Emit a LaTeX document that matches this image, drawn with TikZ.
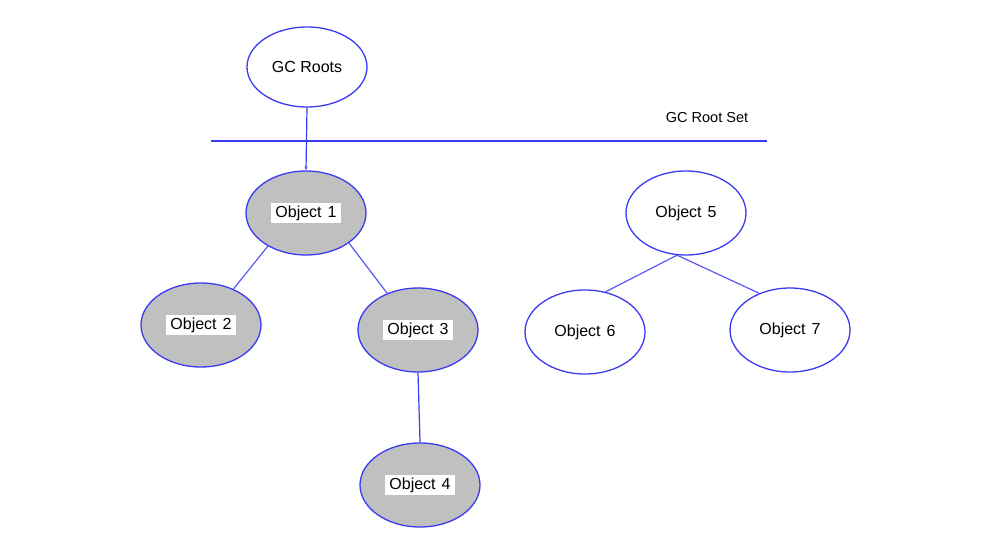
\documentclass[tikz,border=0pt]{standalone}
\usepackage{fontspec}
\setmainfont{Liberation Sans}
\usetikzlibrary{shapes.geometric,arrows.meta}
\definecolor{edgeblue}{HTML}{3A3AF0}
\definecolor{linkblue}{HTML}{5858F8}
\definecolor{objgray}{HTML}{C0C0C0}
\tikzset{
  obj/.style={ellipse,draw=edgeblue,line width=1.3pt,minimum width=120pt,minimum height=84pt,inner sep=0pt,
    font=\fontsize{16}{19}\selectfont},
  grayobj/.style={obj,fill=objgray},
  link/.style={draw=linkblue,line width=1.2pt},
}
\newcommand{\lbl}[1]{\setlength{\fboxsep}{3pt}\colorbox{white}{\hspace{1pt}#1\hspace{1pt}}}
\begin{document}
\begin{tikzpicture}[x=1pt,y=-1pt]
\useasboundingbox (0,0) rectangle (995,534);
\node[obj,minimum height=80pt] (gc) at (307,67) {GC Roots};
\node[font=\fontsize{14.5}{17}\selectfont] (set) at (707,118) {GC Root Set};
\coordinate (hl) at (211,141);
\coordinate (hr) at (767,141);
\draw[draw=edgeblue,line width=1.2pt] (hl) -- (hr);

\node[grayobj] (o1) at (306,213) {\lbl{Object\hspace{6pt}1}};
\node[grayobj] (o2) at (201,325) {\lbl{Object\hspace{6pt}2}};
\node[grayobj] (o3) at (418,330) {\lbl{Object\hspace{6pt}3}};
\node[grayobj] (o4) at (420,485) {\lbl{Object\hspace{6pt}4}};
\node[obj] (o5) at (686,213) {Object\hspace{6pt}5};
\node[obj] (o6) at (585,332) {Object\hspace{6pt}6};
\node[obj] (o7) at (790,330) {Object\hspace{6pt}7};

\draw[draw=edgeblue,line width=1.2pt,-{Stealth[length=4pt,width=3pt]}] (gc.south) -- (o1.north);
\draw[link] (o1.221) -- (o2.48);
\draw[link] (o1.325) -- (o3.130);
\draw[draw=edgeblue,line width=1.2pt] (o3.south) -- (o4.north);
\draw[link] (o5.258) -- (o6.63);
\draw[link] (o5.258) -- (o7.130);
\end{tikzpicture}
\end{document}
